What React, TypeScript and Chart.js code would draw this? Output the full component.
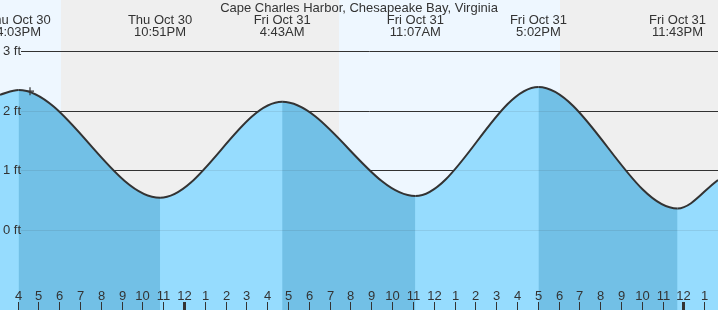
import React, { useEffect, useRef } from 'react';
import { Chart, registerables } from 'chart.js';

Chart.register(...registerables);

// ---- data (hours relative to Fri Oct 31 00:00) ----
const titleText = 'Cape Charles Harbor, Chesapeake Bay, Virginia';
const extremeDays = ['Thu Oct 30', 'Thu Oct 30', 'Fri Oct 31', 'Fri Oct 31', 'Fri Oct 31', 'Fri Oct 31'];
const extremeTimes = ['4:03PM', '10:51PM', '4:43AM', '11:07AM', '5:02PM', '11:43PM'];
const extremeHours = [-7.95, -1.15, 4.717, 11.117, 17.033, 23.717];
const extremeFeet = [2.35, 0.54, 2.15, 0.57, 2.4, 0.36];
const edgeHours = [-8.842, 25.661];
const edgeFeet = [2.27, 0.84];
const markerHour = [-7.4];
const markerFeet = [2.33];
const nightStart = [-5.91, 18.07];
const nightEnd = [7.45, 25.661];
const yTickValues = [0, 1, 2, 3];
const yTickLabels = ['0 ft', '1 ft', '2 ft', '3 ft'];
const firstTickHour = -8;
const hourTickLabels = [
  '4', '5', '6', '7', '8', '9', '10', '11',
  '12', '1', '2', '3', '4', '5', '6', '7', '8', '9', '10', '11',
  '12', '1', '2', '3', '4', '5', '6', '7', '8', '9', '10', '11',
  '12', '1',
];
const midnightHours = [0, 24];
const yMin = -1.342;
const yMax = 3.859;

const FONT = '13px "Liberation Sans", Arial, sans-serif';
const TEXT = '#333333';
const DAY = '#eef7ff';
const NIGHT = '#efefef';
const FALL = '#72c0e6';
const RISE = '#96dcfe';
const GRID_OVER = 'rgba(51,51,51,0.1)';
const CLEAR = 'rgba(0,0,0,0)';

export default function App() {
  const ref = useRef<HTMLCanvasElement>(null);

  useEffect(() => {
    const canvas = ref.current;
    if (!canvas) return;

    const tide = [
      { x: edgeHours[0], y: edgeFeet[0] },
      ...extremeHours.map((h, i) => ({ x: h, y: extremeFeet[i] })),
      { x: edgeHours[1], y: edgeFeet[1] },
    ];
    const marker = markerHour.map((h, i) => ({ x: h, y: markerFeet[i] }));

    const gridLines = (chart: any, color: string) => {
      const { ctx, chartArea: a, scales } = chart;
      const y = scales.y;
      ctx.save();
      ctx.strokeStyle = color;
      ctx.lineWidth = 1;
      yTickValues.forEach((v) => {
        const py = Math.round(y.getPixelForValue(v)) + 0.5;
        ctx.beginPath();
        ctx.moveTo(21, py);
        ctx.lineTo(a.right, py);
        ctx.stroke();
      });
      ctx.restore();
    };

    const bgPlugin = {
      id: 'dayNight',
      beforeDraw(chart: any) {
        const { ctx, chartArea: a, scales } = chart;
        const x = scales.x;
        ctx.save();
        ctx.fillStyle = DAY;
        ctx.fillRect(a.left, a.top, a.right - a.left, a.bottom - a.top);
        ctx.fillStyle = NIGHT;
        nightStart.forEach((s, i) => {
          const x0 = Math.round(x.getPixelForValue(s));
          const x1 = Math.round(x.getPixelForValue(nightEnd[i]));
          ctx.fillRect(x0, a.top, x1 - x0, a.bottom - a.top);
        });
        ctx.restore();
      },
      beforeDatasetsDraw(chart: any) {
        gridLines(chart, TEXT);
      },
      afterDatasetsDraw(chart: any) {
        gridLines(chart, GRID_OVER);
        const { ctx, chartArea: a, scales } = chart;
        const x = scales.x;
        const y = scales.y;
        ctx.save();
        ctx.font = FONT;
        ctx.fillStyle = TEXT;
        ctx.textBaseline = 'alphabetic';

        // y labels
        ctx.textAlign = 'left';
        yTickValues.forEach((v, i) => {
          const py = Math.round(y.getPixelForValue(v));
          ctx.fillText(yTickLabels[i], 3, py + 3.5);
        });

        // title
        ctx.textAlign = 'center';
        ctx.fillText(titleText, (a.left + a.right) / 2, 12);

        // extreme labels
        extremeHours.forEach((h, i) => {
          const px = x.getPixelForValue(h);
          ctx.fillText(extremeDays[i], px, 24);
          ctx.fillText(extremeTimes[i], px, 36);
        });

        // hour ticks
        hourTickLabels.forEach((lab, i) => {
          const h = firstTickHour + i;
          const px = Math.round(x.getPixelForValue(h));
          ctx.fillText(lab, px + 0.5, 299.5);
          if (midnightHours.includes(h)) {
            ctx.fillRect(px - 1, 302, 3, a.bottom - 302);
          } else {
            ctx.fillRect(px, 302, 1, a.bottom - 302);
          }
        });
        ctx.restore();
      },
    };

    const chart = new Chart(canvas, {
      type: 'line',
      data: {
        datasets: [
          {
            // marker (current time)
            data: marker,
            showLine: false,
            pointStyle: 'cross',
            pointRadius: 4,
            pointBorderColor: TEXT,
            pointBorderWidth: 1.2,
            borderColor: TEXT,
            fill: false,
            order: 0,
          },
          {
            // tide line + falling-tide fill
            data: tide,
            borderColor: TEXT,
            borderWidth: 2,
            backgroundColor: FALL,
            fill: 'start',
            pointRadius: 0,
            cubicInterpolationMode: 'monotone',
            segment: {
              backgroundColor: (c: any) => (c.p1.parsed.y < c.p0.parsed.y ? FALL : CLEAR),
            },
            order: 1,
          },
          {
            // base fill under the whole tide curve
            data: tide,
            borderColor: CLEAR,
            borderWidth: 0,
            backgroundColor: RISE,
            fill: 'start',
            pointRadius: 0,
            cubicInterpolationMode: 'monotone',
            order: 2,
          },
        ],
      } as any,
      options: {
        responsive: false,
        animation: false,
        devicePixelRatio: 1,
        layout: { padding: 0, autoPadding: false },
        plugins: { legend: { display: false }, tooltip: { enabled: false }, title: { display: false } },
        scales: {
          x: { type: 'linear', min: edgeHours[0], max: edgeHours[1], display: false },
          y: { type: 'linear', min: yMin, max: yMax, display: false },
        },
        events: [],
      } as any,
      plugins: [bgPlugin],
    });

    return () => chart.destroy();
  }, []);

  return (
    <div style={{ position: 'absolute', left: 0, top: 0, width: 718, height: 310 }}>
      <canvas ref={ref} width={718} height={310} style={{ display: 'block', width: 718, height: 310 }} />
    </div>
  );
}
